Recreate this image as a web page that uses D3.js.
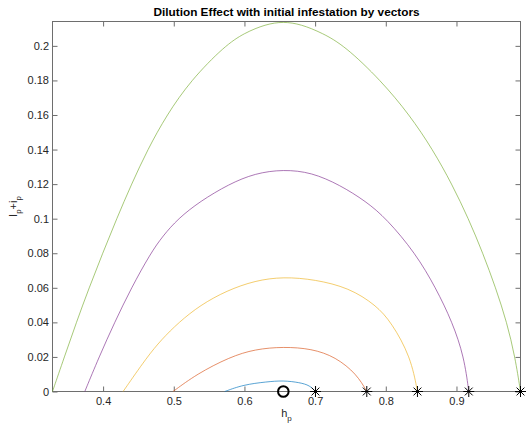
<!DOCTYPE html>
<html>
<head>
<meta charset="utf-8">
<script src="https://cdn.jsdelivr.net/npm/d3@7"></script>
<style>
  body { margin: 0; background: #fff; }
  svg { font-family: "Liberation Sans", Arial, Helvetica, sans-serif; }
</style>
</head>
<body>
<div id="plot"></div>
<script>
// Curves: h_p values and I_p + i_p values
const hpBlue   = [0.5722, 0.5981, 0.6312, 0.6547, 0.6783, 0.6925, 0.7005];
const infBlue  = [0, 0.0039, 0.0056, 0.0064, 0.0052, 0.0035, 0];

const hpRed    = [0.4990, 0.5321, 0.5793, 0.6150, 0.6550, 0.6950, 0.7290, 0.7590, 0.7731];
const infRed   = [0, 0.0100, 0.0200, 0.0245, 0.0259, 0.0248, 0.0200, 0.0100, 0];

const hpYellow  = [0.4283, 0.4622, 0.4825, 0.5070, 0.5375, 0.5750, 0.6150, 0.6550, 0.7000, 0.7480, 0.7860, 0.8080, 0.8353, 0.8448];
const infYellow = [0, 0.0200, 0.0300, 0.0400, 0.0500, 0.0584, 0.0642, 0.0664, 0.0648, 0.0600, 0.0500, 0.0400, 0.0200, 0];

const hpPurple  = [0.3741, 0.3943, 0.4163, 0.4400, 0.4672, 0.4845, 0.5060, 0.5370, 0.5780, 0.6150, 0.6550, 0.6950, 0.7350, 0.7720, 0.8010, 0.8420, 0.8707, 0.8943, 0.9108, 0.9174];
const infPurple = [0, 0.0200, 0.0400, 0.0600, 0.0800, 0.0900, 0.1000, 0.1100, 0.1200, 0.1263, 0.1285, 0.1268, 0.1195, 0.1100, 0.1000, 0.0800, 0.0600, 0.0400, 0.0200, 0];

const hpGreen  = [0.3284, 0.3452, 0.3622, 0.3802, 0.3994, 0.4192, 0.4402, 0.4630, 0.4900, 0.5240, 0.5720, 0.6000, 0.6300, 0.6550, 0.6800, 0.7100, 0.7420, 0.7930, 0.8337, 0.8664, 0.8936, 0.9170, 0.9374, 0.9555, 0.9713, 0.9829, 0.9906];
const infGreen = [0, 0.0200, 0.0400, 0.0600, 0.0800, 0.1000, 0.1200, 0.1400, 0.1600, 0.1800, 0.2000, 0.2075, 0.2125, 0.2141, 0.2125, 0.2075, 0.2000, 0.1800, 0.1600, 0.1400, 0.1200, 0.1000, 0.0800, 0.0600, 0.0400, 0.0200, 0];

// Markers on the h_p axis
const starHp = [0.7005, 0.7731, 0.8448, 0.9174, 0.9906];
const circleHp = 0.655;

// Ticks
const xTicks = [0.4, 0.5, 0.6, 0.7, 0.8, 0.9];
const xTickLabels = ["0.4", "0.5", "0.6", "0.7", "0.8", "0.9"];
const yTicks = [0, 0.02, 0.04, 0.06, 0.08, 0.1, 0.12, 0.14, 0.16, 0.18, 0.2];
const yTickLabels = ["0", "0.02", "0.04", "0.06", "0.08", "0.1", "0.12", "0.14", "0.16", "0.18", "0.2"];

const series = [
  {hp: hpBlue, inf: infBlue, color: "#0072BD"},
  {hp: hpRed, inf: infRed, color: "#D95319"},
  {hp: hpYellow, inf: infYellow, color: "#EDB120"},
  {hp: hpPurple, inf: infPurple, color: "#7E2F8E"},
  {hp: hpGreen, inf: infGreen, color: "#77AC30"}
];

const W = 527, H = 424;
const plotLeft = 52.5, plotRight = 520.5, plotTop = 21.5, plotBottom = 391.5;

const svg = d3.select("#plot").append("svg")
  .attr("width", W)
  .attr("height", H);

// Tight axis limits, as MATLAB does with axis tight
const allHp = series.flatMap(s => s.hp);
const allInf = series.flatMap(s => s.inf);
const x = d3.scaleLinear().domain(d3.extent(allHp)).range([plotLeft, plotRight]);
const y = d3.scaleLinear().domain([0, d3.max(allInf)]).range([plotBottom, plotTop]);

const axisColor = "#6e6e6e";

// Bottom axis
const gx = svg.append("g")
  .attr("transform", `translate(0,${plotBottom})`)
  .call(d3.axisBottom(x).tickValues(xTicks).tickFormat((d, i) => xTickLabels[i])
    .tickSizeInner(-5).tickSizeOuter(0).tickPadding(5.5));
// Left axis
const gy = svg.append("g")
  .attr("transform", `translate(${plotLeft},0)`)
  .call(d3.axisLeft(y).tickValues(yTicks).tickFormat((d, i) => yTickLabels[i])
    .tickSizeInner(-5).tickSizeOuter(0).tickPadding(3.5));
// Top and right ticks, no labels
const gt = svg.append("g")
  .attr("transform", `translate(0,${plotTop})`)
  .call(d3.axisTop(x).tickValues(xTicks).tickFormat("").tickSizeInner(-5).tickSizeOuter(0));
const gr = svg.append("g")
  .attr("transform", `translate(${plotRight},0)`)
  .call(d3.axisRight(y).tickValues(yTicks).tickFormat("").tickSizeInner(-5).tickSizeOuter(0));

[gx, gy, gt, gr].forEach(g => {
  g.select(".domain").remove();
  g.selectAll(".tick line").attr("stroke", axisColor);
  g.selectAll(".tick text").attr("fill", "#262626").style("font-size", "11px")
    .style("font-family", "'Liberation Sans', Arial, sans-serif");
});

// Axes box
svg.append("rect")
  .attr("x", plotLeft).attr("y", plotTop)
  .attr("width", plotRight - plotLeft).attr("height", plotBottom - plotTop)
  .attr("fill", "none").attr("stroke", axisColor).attr("stroke-width", 1);

// The curves (smoothed through the read points)
const line = d3.line()
  .x(d => x(d[0]))
  .y(d => y(d[1]))
  .curve(d3.curveBasis);

series.forEach(s => {
  svg.append("path")
    .datum(d3.zip(s.hp, s.inf))
    .attr("fill", "none")
    .attr("stroke", s.color)
    .attr("stroke-width", 0.65)
    .attr("d", line);
});

// Star markers
svg.selectAll(".star")
  .data(starHp)
  .enter().append("path")
  .attr("class", "star")
  .attr("transform", d => `translate(${x(d)},${y(0)})`)
  .attr("d", "M-5.5,0H5.5M0,-5.5V5.5M-3.9,-3.9L3.9,3.9M-3.9,3.9L3.9,-3.9")
  .attr("stroke", "#000")
  .attr("stroke-width", 1)
  .attr("fill", "none");

// Circle marker
svg.append("circle")
  .attr("cx", x(circleHp))
  .attr("cy", y(0))
  .attr("r", 5.3)
  .attr("fill", "none")
  .attr("stroke", "#000")
  .attr("stroke-width", 2);

// Title
svg.append("text")
  .attr("x", (plotLeft + plotRight) / 2)
  .attr("y", 16)
  .attr("text-anchor", "middle")
  .style("font-size", "11.8px")
  .style("font-weight", "bold")
  .attr("fill", "#000")
  .text("Dilution Effect with initial infestation by vectors");

// x label
const xl = svg.append("text")
  .attr("x", (plotLeft + plotRight) / 2)
  .attr("y", 417)
  .attr("text-anchor", "middle")
  .style("font-size", "11px")
  .attr("fill", "#262626");
xl.append("tspan").text("h");
xl.append("tspan").attr("dy", 4).style("font-size", "8px").text("p");

// y label
const yl = svg.append("text")
  .attr("transform", `translate(16.5,${(plotTop + plotBottom) / 2}) rotate(-90)`)
  .attr("text-anchor", "middle")
  .style("font-size", "11px")
  .attr("fill", "#262626");
yl.append("tspan").text("I");
yl.append("tspan").attr("dy", 4).style("font-size", "8px").text("p");
yl.append("tspan").attr("dy", -4).text("+i");
yl.append("tspan").attr("dy", 4).style("font-size", "8px").text("p");
</script>
</body>
</html>
